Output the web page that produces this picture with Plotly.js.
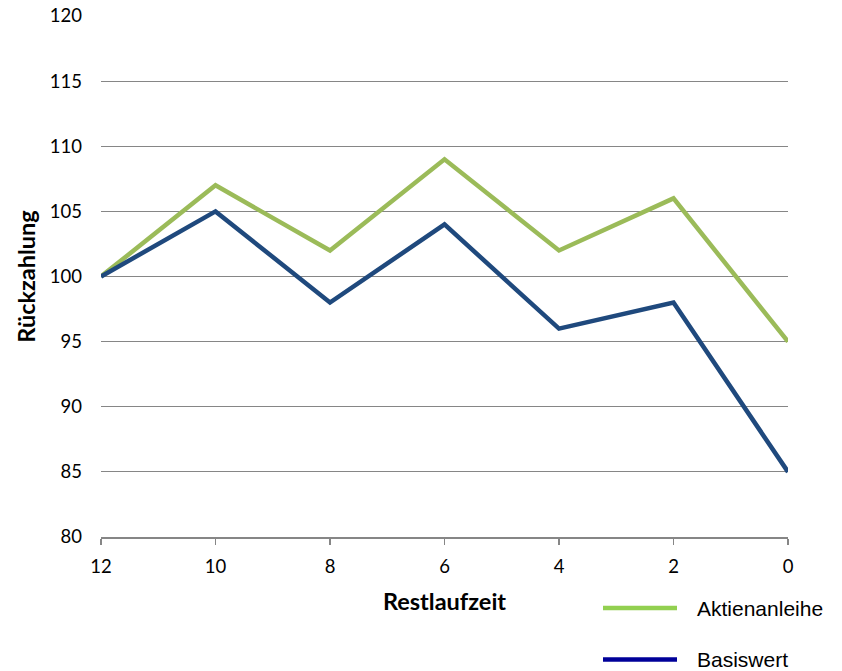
<!DOCTYPE html>
<html>
<head>
<meta charset="utf-8">
<script src="https://cdn.plot.ly/plotly-3.0.1.min.js"></script>
<style>
  html, body { margin: 0; padding: 0; background: #fff; }
  #chart { width: 842px; height: 671px; }
</style>
</head>
<body>
<div id="chart"></div>
<script>
// Restlaufzeit (Jahre) und Rückzahlungswerte
const restlaufzeit = [12, 10, 8, 6, 4, 2, 0];
const aktienanleihe = [100, 107, 102, 109, 102, 106, 95];
const basiswert = [100, 105, 98, 104, 96, 98, 85];
const legendLabels = ['Aktienanleihe', 'Basiswert'];

const tickFont = { family: 'Lato, "Open Sans", sans-serif', size: 18.5, color: '#000' };
const titleFont = { family: 'Lato, "Open Sans", sans-serif', size: 23.5, color: '#000', weight: 'bold' };
const gridGrey = '#868686';

const traces = [
  {
    x: restlaufzeit, y: aktienanleihe, type: 'scatter', mode: 'lines',
    name: legendLabels[0], line: { color: '#9BBB59', width: 4.5 }, showlegend: false
  },
  {
    x: restlaufzeit, y: basiswert, type: 'scatter', mode: 'lines',
    name: legendLabels[1], line: { color: '#1F497D', width: 4.5 }, showlegend: false
  }
];

// Legende unten rechts, als Linien und Texte gezeichnet (Pixelpositionen)
const W = 842, H = 671;
const M = { l: 101, r: 54, t: 16, b: 134 };
const plotW = W - M.l - M.r, plotH = H - M.t - M.b;
const px = x => (x - M.l) / plotW;
const py = y => (H - M.b - y) / plotH;

const legendItems = [
  { label: legendLabels[0], color: '#92D050', y: 608 },
  { label: legendLabels[1], color: '#000099', y: 659.5 }
];
const shapes = legendItems.map(it => ({
  type: 'line', xref: 'paper', yref: 'paper',
  x0: px(603), x1: px(677), y0: py(it.y), y1: py(it.y),
  line: { color: it.color, width: 4.5 }
}));
const annotations = legendItems.map(it => ({
  xref: 'paper', yref: 'paper',
  x: px(695), y: py(it.y),
  xanchor: 'left', yanchor: 'middle', showarrow: false,
  text: it.label,
  font: { family: '"Liberation Sans", Arial, sans-serif', size: 21, color: '#000' }
}));

const layout = {
  width: W, height: H,
  margin: M,
  paper_bgcolor: '#fff', plot_bgcolor: '#fff',
  showlegend: false,
  xaxis: {
    range: [12, 0], autorange: false,
    tickmode: 'array', tickvals: restlaufzeit, ticktext: restlaufzeit.map(String),
    showgrid: false, zeroline: false,
    showline: true, linecolor: gridGrey, linewidth: 1.5,
    ticks: 'outside', ticklen: 6, tickcolor: gridGrey, tickwidth: 1.5,
    tickfont: tickFont, ticklabelstandoff: 6,
    title: { text: 'Restlaufzeit', font: titleFont, standoff: 18 }
  },
  yaxis: {
    range: [80, 120], autorange: false, dtick: 5, tick0: 80,
    showgrid: true, gridcolor: gridGrey, gridwidth: 1,
    zeroline: false, showline: false, ticks: '',
    tickfont: tickFont, ticklabelstandoff: 18,
    title: { text: 'Rückzahlung', font: titleFont, standoff: 7 }
  },
  shapes: shapes,
  annotations: annotations
};

Plotly.newPlot('chart', traces, layout, { displayModeBar: false, staticPlot: true });
</script>
</body>
</html>
